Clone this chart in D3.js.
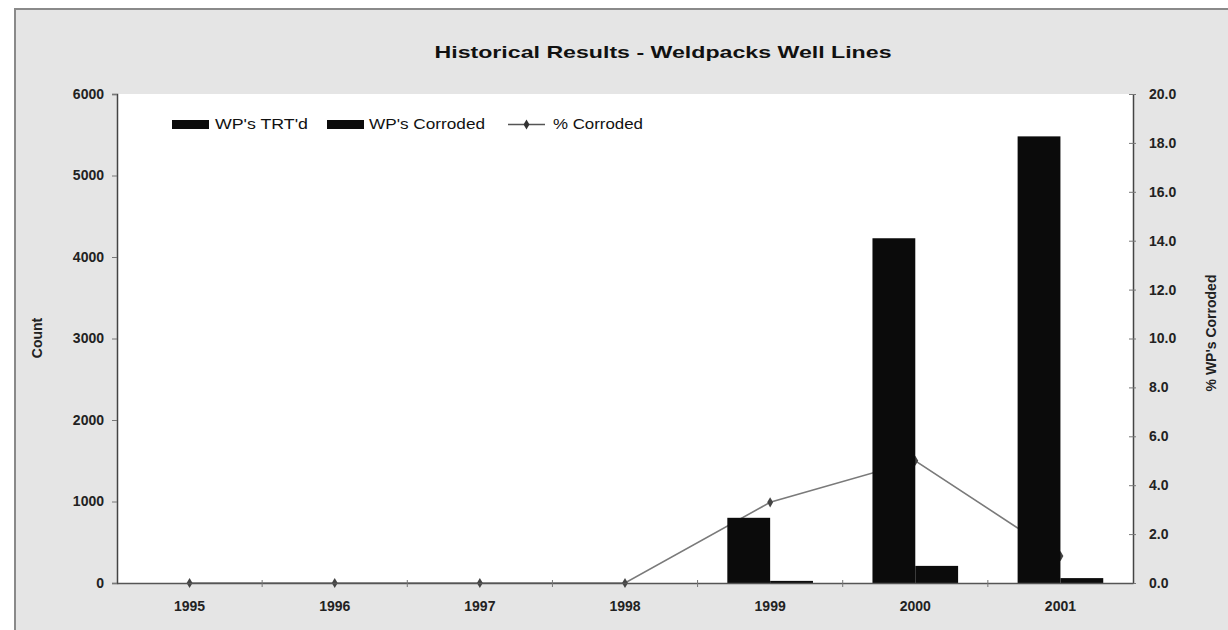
<!DOCTYPE html>
<html><head><meta charset="utf-8">
<script src="https://cdn.jsdelivr.net/npm/d3@7"></script>
<style>body{margin:0;background:#fff;} svg{display:block;}</style>
</head><body>
<script>
const years = ["1995","1996","1997","1998","1999","2000","2001"];
const treated = [0, 0, 0, 0, 800, 4230, 5480];
const corroded = [0, 0, 0, 0, 26, 210, 60];
const pctCorroded = [0, 0, 0, 0, 3.3, 5.0, 1.1];
const leftTicks = [0, 1000, 2000, 3000, 4000, 5000, 6000];
const rightTicks = [0, 2, 4, 6, 8, 10, 12, 14, 16, 18, 20];
const seriesNames = ["WP's TRT'd", "WP's Corroded", "% Corroded"];

const W = 1228, H = 630;
const m = {l:117, r:1133, t:94, b:583};
const font = "'Liberation Sans', Arial, sans-serif";

const svg = d3.select("body").append("svg").attr("width", W).attr("height", H);

// page background
svg.append("rect").attr("x",15).attr("y",9).attr("width",1230).attr("height",640)
  .attr("fill","#e5e5e5").attr("stroke","#8a8a8a").attr("stroke-width",2);
// plot area
svg.append("rect").attr("x",m.l).attr("y",m.t).attr("width",m.r-m.l).attr("height",m.b-m.t)
  .attr("fill","#fff");

const x = d3.scaleBand().domain(years).range([m.l, m.r]).paddingInner(0.41).paddingOuter(0.205);
const xs = d3.scaleBand().domain([0,1]).range([0, x.bandwidth()]);
const yL = d3.scaleLinear().domain([0, 6000]).range([m.b, m.t]);
const yR = d3.scaleLinear().domain([0, 20]).range([m.b, m.t]);

// line (behind bars)
const lineData = years.map((d,i)=>({year:d, v:pctCorroded[i]}));
const line = d3.line().x(d=>x(d.year)+x.bandwidth()/2).y(d=>yR(d.v));
svg.append("path").datum(lineData).attr("d", line).attr("fill","none")
  .attr("stroke","#7a7a7a").attr("stroke-width",1.6);
svg.selectAll(".mk").data(lineData).enter().append("path")
  .attr("transform", d=>`translate(${x(d.year)+x.bandwidth()/2},${yR(d.v)})`)
  .attr("d", d3.symbol(d3.symbolDiamond, 30)).attr("fill","#444");

// bars
const g = svg.append("g");
g.selectAll(".b1").data(years).enter().append("rect")
  .attr("x", (d)=>x(d)+xs(0)).attr("width", xs.bandwidth())
  .attr("y", (d,i)=>yL(treated[i])).attr("height",(d,i)=>yL(0)-yL(treated[i]))
  .attr("fill","#0b0b0b");
g.selectAll(".b2").data(years).enter().append("rect")
  .attr("x", (d)=>x(d)+xs(1)).attr("width", xs.bandwidth())
  .attr("y", (d,i)=>yL(corroded[i])).attr("height",(d,i)=>yL(0)-yL(corroded[i]))
  .attr("fill","#0b0b0b");

// left axis
const axL = svg.append("g").attr("transform",`translate(${m.l},0)`)
  .call(d3.axisLeft(yL).tickValues(leftTicks).tickFormat(d3.format("d")).tickSize(5).tickPadding(8));
// right axis
const axR = svg.append("g").attr("transform",`translate(${m.r},0)`)
  .call(d3.axisRight(yR).tickValues(rightTicks).tickFormat(d3.format(".1f")).tickSizeInner(-5).tickSizeOuter(0).tickPadding(16));
axR.selectAll(".tick line").attr("x1", -4).attr("x2", 3);
// bottom axis
const axB = svg.append("g").attr("transform",`translate(0,${m.b})`)
  .call(d3.axisBottom(x).tickSize(0).tickPadding(18));
const bounds = d3.range(years.length+1).map(i=> m.l + i*(m.r-m.l)/years.length);
svg.append("g").selectAll("line").data(bounds.slice(1,-1)).enter().append("line")
  .attr("x1",d=>d).attr("x2",d=>d).attr("y1",m.b-3).attr("y2",m.b+4).attr("stroke","#777");

[axL, axR, axB].forEach(a=>{
  a.selectAll("text").attr("font-family",font).attr("font-size",14).attr("font-weight","bold").attr("fill","#222");
  a.selectAll("path.domain").attr("stroke","#444").attr("stroke-width",1.5);
  a.selectAll(".tick line").attr("stroke","#777");
});
axB.select("path.domain").attr("stroke","#555");

// title
svg.append("text").attr("x",663).attr("y",58).attr("text-anchor","middle")
  .attr("font-family",font).attr("font-size",17).attr("font-weight","bold").attr("fill","#111")
  .attr("textLength",457).attr("lengthAdjust","spacingAndGlyphs")
  .text("Historical Results - Weldpacks Well Lines");

// axis titles
svg.append("text").attr("transform","translate(42,338) rotate(-90)").attr("text-anchor","middle")
  .attr("font-family",font).attr("font-size",14).attr("font-weight","bold").attr("fill","#222").text("Count");
svg.append("text").attr("transform","translate(1216,333) rotate(-90)").attr("text-anchor","middle")
  .attr("font-family",font).attr("font-size",14).attr("font-weight","bold").attr("fill","#222").text("% WP's Corroded");

// legend
const lg = svg.append("g").attr("font-family",font).attr("font-size",14).attr("fill","#111");
lg.append("rect").attr("x",172).attr("y",120).attr("width",37).attr("height",9).attr("fill","#0b0b0b");
lg.append("text").attr("x",215).attr("y",129).attr("textLength",93).attr("lengthAdjust","spacingAndGlyphs").text(seriesNames[0]);
lg.append("rect").attr("x",327).attr("y",120).attr("width",37).attr("height",9).attr("fill","#0b0b0b");
lg.append("text").attr("x",369).attr("y",129).attr("textLength",116).attr("lengthAdjust","spacingAndGlyphs").text(seriesNames[1]);
lg.append("line").attr("x1",508).attr("x2",545).attr("y1",124.5).attr("y2",124.5).attr("stroke","#555").attr("stroke-width",1.4);
lg.append("path").attr("transform","translate(526.5,124.5)").attr("d",d3.symbol(d3.symbolDiamond,30)).attr("fill","#333");
lg.append("text").attr("x",553).attr("y",129).attr("textLength",90).attr("lengthAdjust","spacingAndGlyphs").text(seriesNames[2]);
</script>
</body></html>
